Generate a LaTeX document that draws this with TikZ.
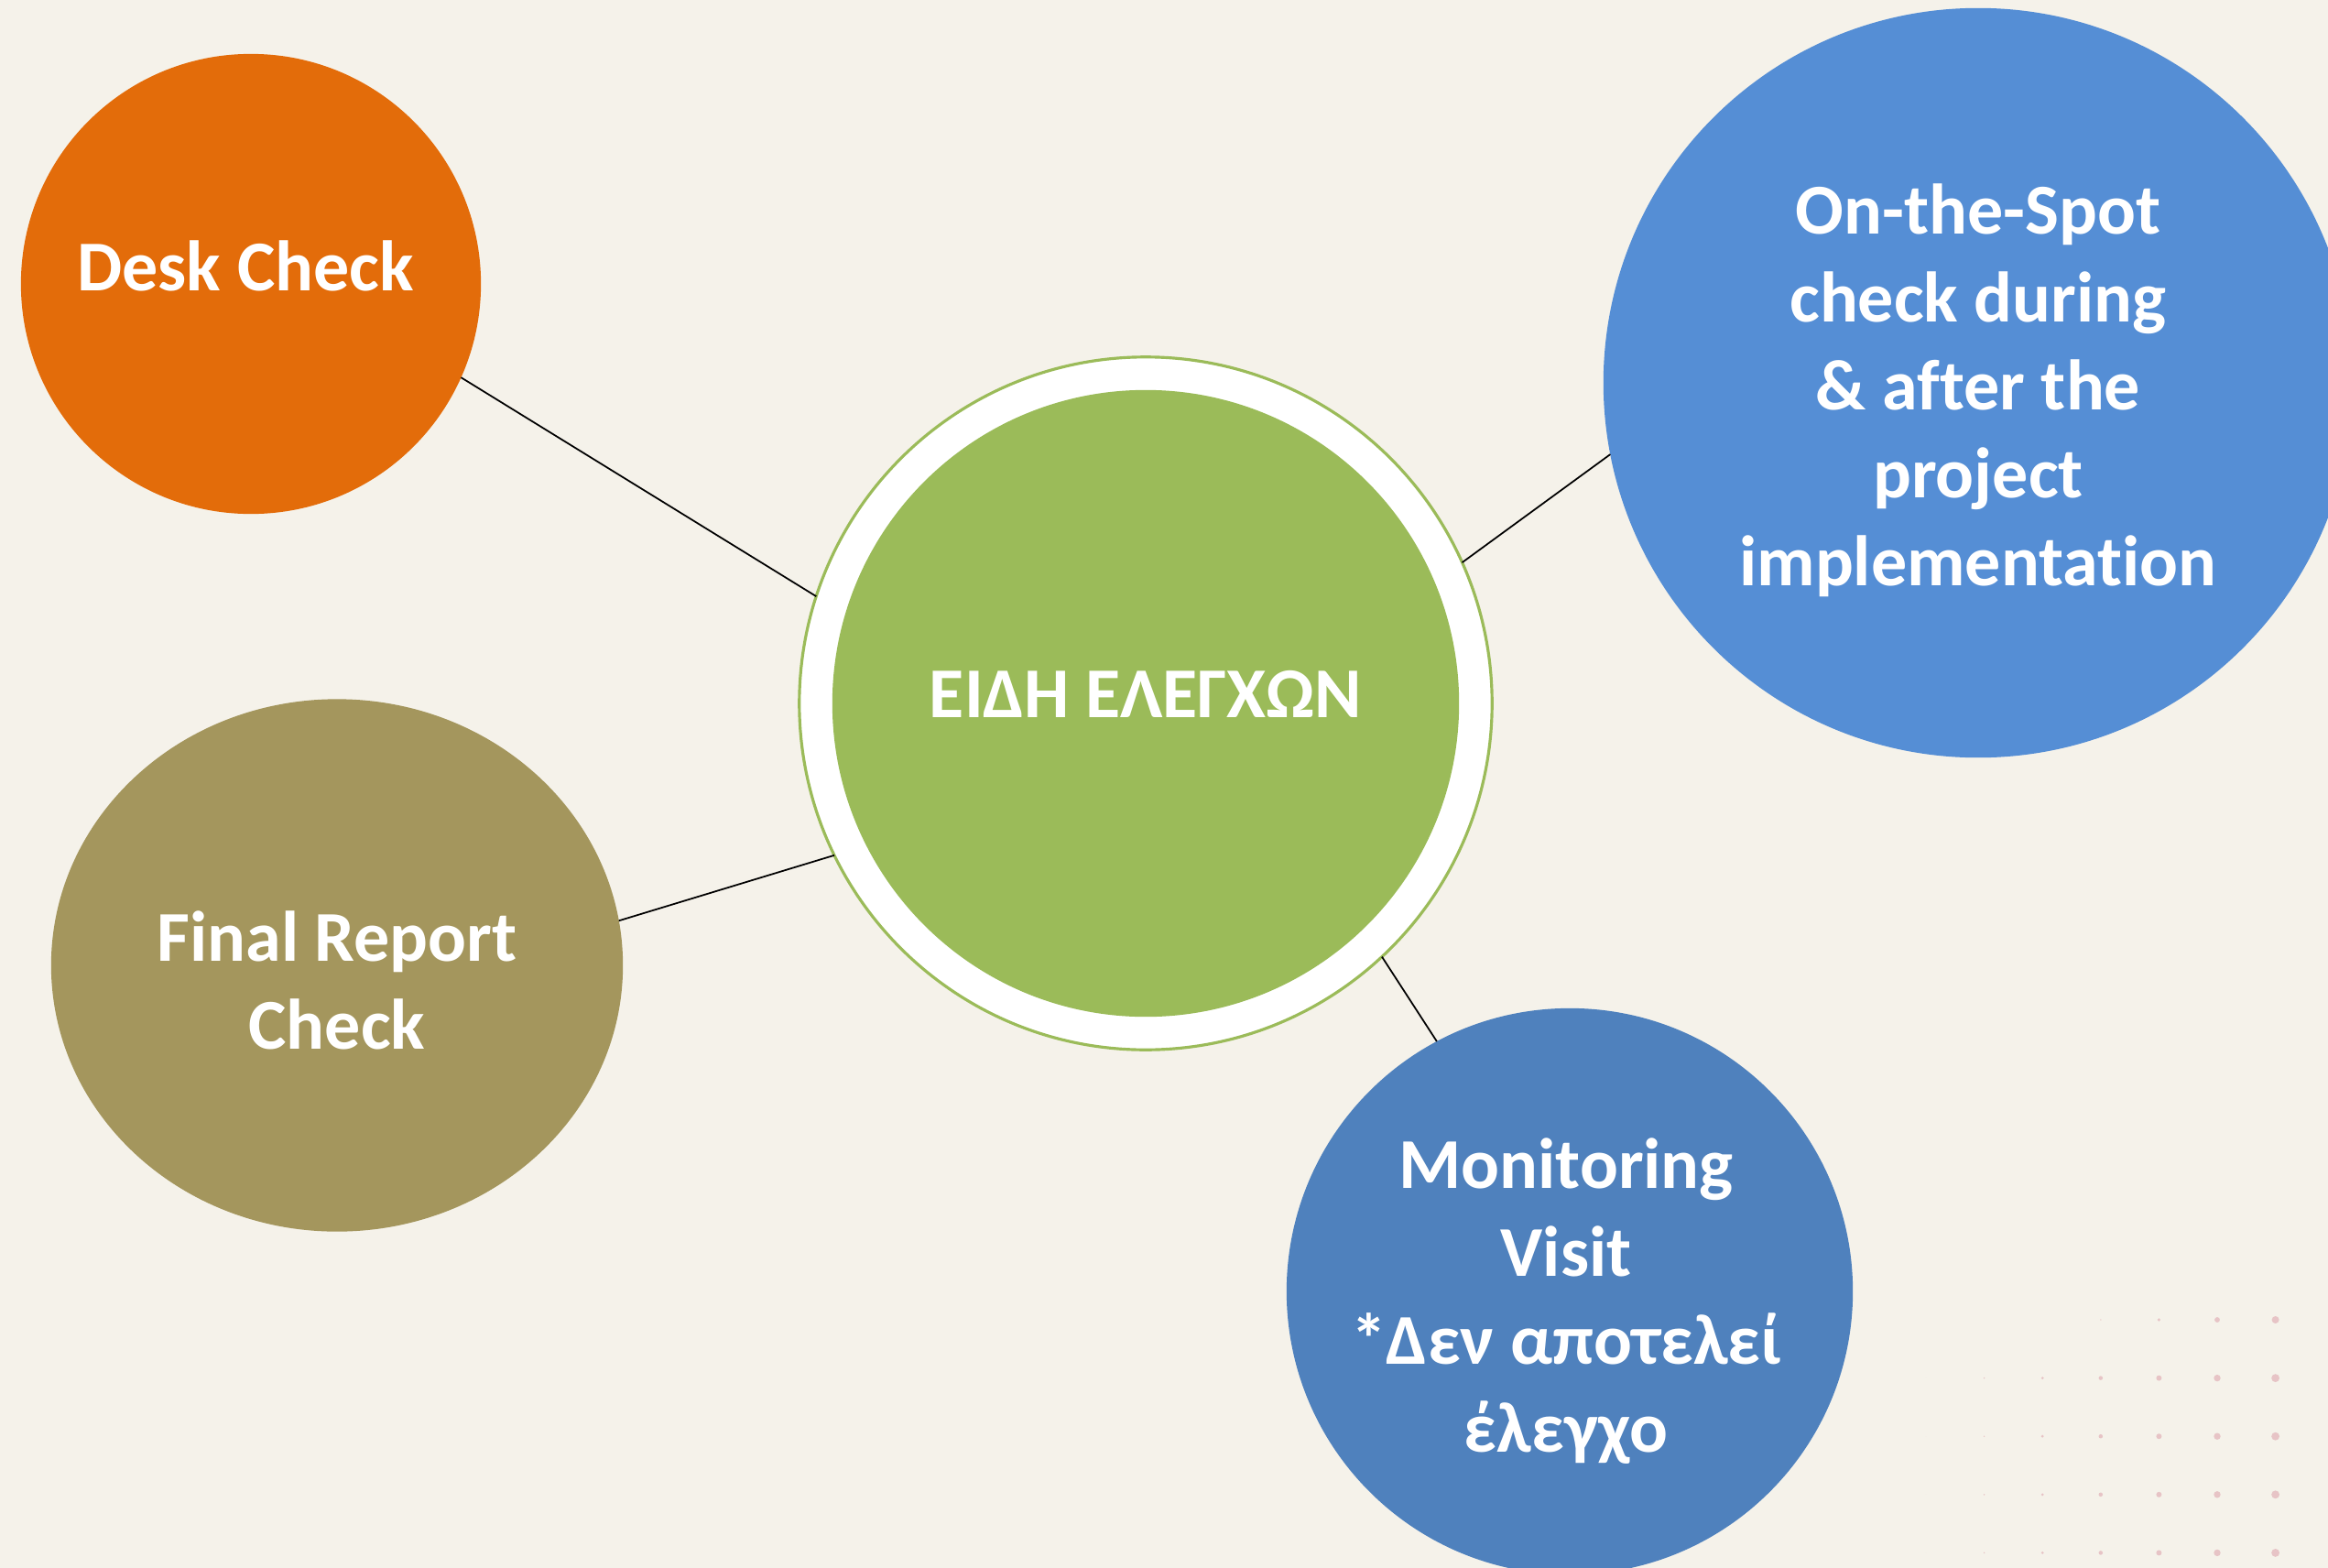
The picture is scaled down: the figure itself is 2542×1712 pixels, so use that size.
\documentclass[tikz,border=0pt]{standalone}
\usepackage{fontspec}
\setmainfont{Carlito}[Ligatures=CommonOff]
\usetikzlibrary{shapes.geometric}
\definecolor{paper}{RGB}{245,242,234}
\definecolor{deskorange}{RGB}{227,108,10}
\definecolor{reportolive}{RGB}{164,150,93}
\definecolor{hubgreen}{RGB}{155,187,89}
\definecolor{spotblue}{RGB}{85,142,213}
\definecolor{visitblue}{RGB}{79,129,189}
\definecolor{dotpink}{RGB}{231,196,198}

\begin{document}
\begin{tikzpicture}[x=0.01cm,y=-0.01cm,
			bubble/.style={circle,inner sep=0pt,outer sep=0pt},
			caption/.style={text=white,font=\bfseries\fontsize{22.2}{27.3}\selectfont,align=center,inner sep=0pt},
			link/.style={draw=black,line width=0.5pt}]
	\useasboundingbox (0,0) rectangle (2542,1712);
	\fill[paper] (0,0) rectangle (2542,1712);

	\foreach \col in {0,...,6}
		\foreach \row in {1,...,4}
			\fill[dotpink] (2103+63.6*\col,1441+63.6*\row) circle[radius=0.72*\col+0.1];
	\foreach \col in {3,...,6}
		\fill[dotpink] (2103+63.6*\col,1441) circle[radius=1.1*\col-2.6];

	\node (hub) [bubble,draw=hubgreen,line width=0.9pt,fill=white,minimum size=7.56cm] at (1251,768) {};
	\node (hubcore) [bubble,fill=hubgreen,minimum size=6.84cm] at (hub) {};
	\node (desk) [bubble,fill=deskorange,minimum size=5.02cm] at (274,310) {};
	\node (report) [ellipse,inner sep=0pt,outer sep=0pt,fill=reportolive,
		minimum width=6.24cm,minimum height=5.81cm] at (368,1054) {};
	\node (spot) [bubble,fill=spotblue,minimum size=8.18cm] at (2160,418) {};
	\node (visit) [bubble,fill=visitblue,minimum size=6.18cm] at (1714,1410) {};

	\node (hubcap) [caption] at (1251,758) {ΕΙΔΗ ΕΛΕΓΧΩΝ};
	\node (deskcap) [caption] at (268,290) {Desk Check};
	\node (reportcap) [caption] at (368,1070) {Final Report\\Check};
	\node (spotcap) [caption] at (2160,426) {On-the-Spot\\check during\\\& after the\\project\\implementation};
	\node (visitcap) [caption] at (1710,1421) {Monitoring\\Visit\\*Δεν αποτελεί\\έλεγχο};

	\draw[link] (desk.-24) -- (hub.162.5);
	\draw[link] (report.9.4) -- (hub.206.8);
	\draw[link] (spot.191.3) -- (hub.24);
	\draw[link] (visit.118) -- (hub.-47.2);
\end{tikzpicture}
\end{document}
